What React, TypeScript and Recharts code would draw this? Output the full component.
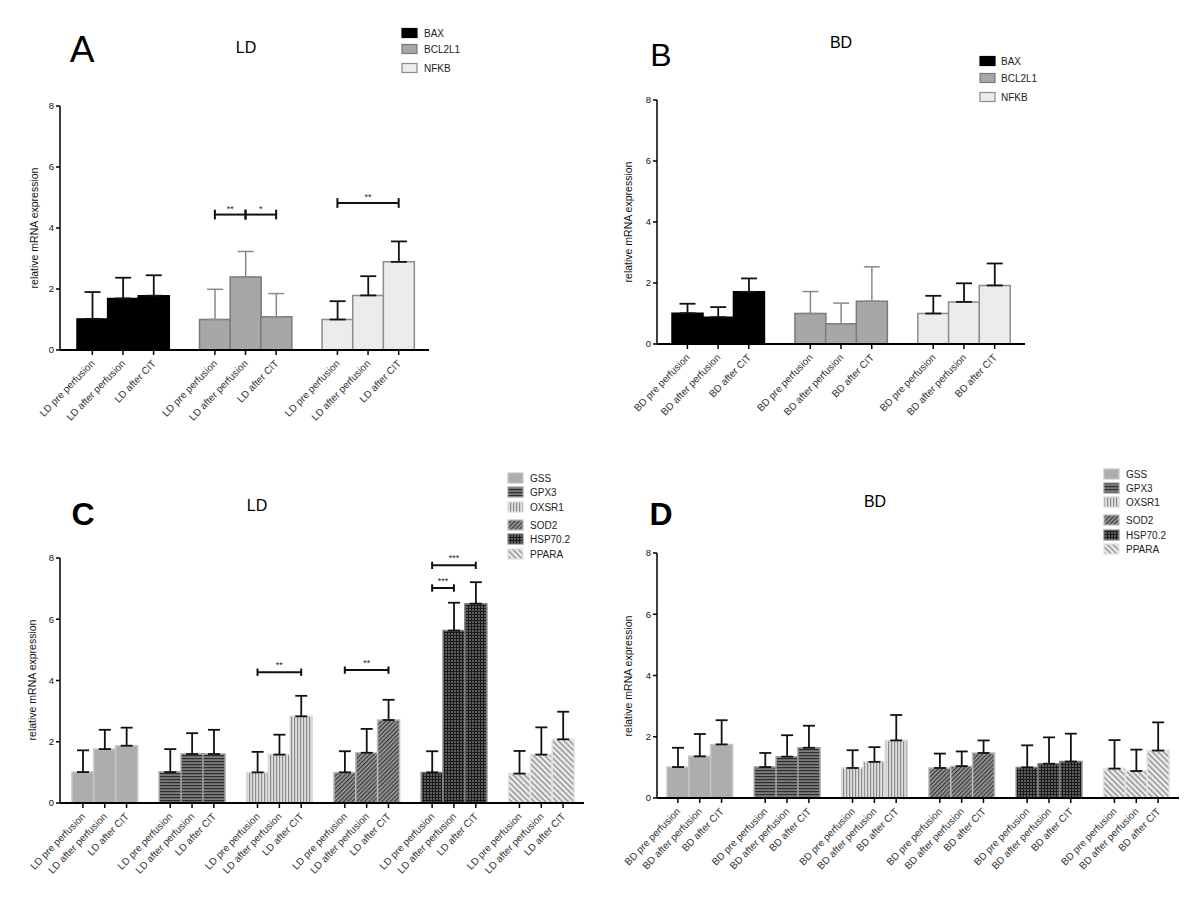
import { Bar, BarChart, Cell, ErrorBar, ReferenceLine, XAxis, YAxis } from "recharts";

const FONT = "'Liberation Sans', Arial, Helvetica, sans-serif";

const LD_STAGES = ["LD pre perfusion", "LD after perfusion", "LD after CIT"];
const BD_STAGES = ["BD pre perfusion", "BD after perfusion", "BD after CIT"];
const APOPTOSIS_GENES = ["BAX", "BCL2L1", "NFKB"];
const OXIDATIVE_GENES = ["GSS", "GPX3", "OXSR1", "SOD2", "HSP70.2", "PPARA"];
const Y_TICKS = [0, 2, 4, 6, 8];

// mean and upper SD per gene, stages in order (pre, after perfusion, after CIT)
const A_MEAN = [[1.02, 1.69, 1.78], [1.0, 2.39, 1.09], [1.0, 1.79, 2.89]];
const A_SD = [[0.88, 0.68, 0.67], [0.99, 0.84, 0.76], [0.6, 0.63, 0.67]];
const B_MEAN = [[1.01, 0.88, 1.71], [1.0, 0.66, 1.4], [1.0, 1.38, 1.92]];
const B_SD = [[0.31, 0.33, 0.44], [0.72, 0.68, 1.13], [0.58, 0.61, 0.72]];
const C_MEAN = [
  [1.01, 1.76, 1.87],
  [1.01, 1.6, 1.6],
  [1.0, 1.58, 2.83],
  [1.0, 1.64, 2.71],
  [1.0, 5.63, 6.51],
  [0.96, 1.58, 2.08],
];
const C_SD = [
  [0.71, 0.63, 0.59],
  [0.75, 0.68, 0.79],
  [0.67, 0.65, 0.67],
  [0.69, 0.78, 0.66],
  [0.69, 0.91, 0.7],
  [0.74, 0.89, 0.9],
];
const D_MEAN = [
  [1.01, 1.36, 1.75],
  [1.01, 1.35, 1.64],
  [0.98, 1.18, 1.88],
  [0.98, 1.04, 1.47],
  [1.0, 1.12, 1.19],
  [0.96, 0.88, 1.55],
];
const D_SD = [
  [0.63, 0.73, 0.79],
  [0.46, 0.7, 0.72],
  [0.58, 0.48, 0.83],
  [0.47, 0.48, 0.41],
  [0.72, 0.86, 0.91],
  [0.93, 0.7, 0.92],
];

// significance brackets: gene, from stage, to stage, height, stars
const A_SIG: [number, number, number, number, string][] = [
  [1, 0, 1, 4.44, "**"],
  [1, 1, 2, 4.44, "*"],
  [2, 0, 2, 4.82, "**"],
];
const C_SIG: [number, number, number, number, string][] = [
  [2, 0, 2, 4.27, "**"],
  [3, 0, 2, 4.34, "**"],
  [4, 0, 1, 7.02, "***"],
  [4, 0, 2, 7.76, "***"],
];

type GeneStyle = { fill: string; stroke: string; grey?: boolean };

const GENE_STYLE: Record<string, GeneStyle> = {
  BAX: { fill: "#000000", stroke: "#000000" },
  BCL2L1: { fill: "#a7a7a7", stroke: "#7a7a7a", grey: true },
  NFKB: { fill: "#ececec", stroke: "#8c8c8c" },
  GSS: { fill: "#adadad", stroke: "#c6c6c6" },
  GPX3: { fill: "url(#pat-gpx3)", stroke: "#9c9c9c" },
  OXSR1: { fill: "url(#pat-oxsr1)", stroke: "#dadada" },
  SOD2: { fill: "url(#pat-sod2)", stroke: "#bdbdbd" },
  "HSP70.2": { fill: "url(#pat-hsp)", stroke: "#858585" },
  PPARA: { fill: "url(#pat-ppara)", stroke: "#e2e2e2" },
};

type Row = {
  key: string;
  label: string;
  mean?: number;
  errDark?: number[];
  errGrey?: number[];
  fill?: string;
  stroke?: string;
};

function buildRows(id: string, genes: string[], stages: string[], mean: number[][], sd: number[][]) {
  const rows: Row[] = [];
  genes.forEach((g, gi) => {
    if (gi > 0) rows.push({ key: `${id}-gap${gi}`, label: "" });
    const st = GENE_STYLE[g];
    stages.forEach((s, si) => {
      const r: Row = { key: `${id}-${gi}-${si}`, label: s, mean: mean[gi][si], fill: st.fill, stroke: st.stroke };
      if (st.grey) r.errGrey = [0, sd[gi][si]];
      else r.errDark = [0, sd[gi][si]];
      rows.push(r);
    });
  });
  return rows;
}

function XTick(props: any) {
  const { x, y, index, rows, fontSize } = props;
  const row = rows[index];
  if (!row || !row.label) return <g />;
  const ax = x + 3;
  const ay = y + 14;
  return (
    <g>
      <line x1={x} y1={y} x2={x} y2={y + 5} stroke="#000" strokeWidth={1.5} />
      <text
        x={ax}
        y={ay}
        transform={`rotate(-46 ${ax} ${ay})`}
        textAnchor="end"
        fontSize={fontSize}
        fontFamily={FONT}
        fill="#333"
      >
        {row.label}
      </text>
    </g>
  );
}

type PanelCfg = {
  id: string;
  rows: Row[];
  sig: [number, number, number, number, string][];
  left: number;
  top: number;
  width: number;
  height: number;
  margin: { top: number; right: number; bottom: number; left: number };
  padding: { left: number; right: number };
  yWidth: number;
  xHeight: number;
  capHalf: number;
  tickFont: number;
  sigCap: number;
  sigOffset: number;
};

function Panel({ cfg }: { cfg: PanelCfg }) {
  const k = (gi: number, si: number) => `${cfg.id}-${gi}-${si}`;
  return (
    <div style={{ position: "absolute", left: cfg.left, top: cfg.top }}>
      <BarChart
        width={cfg.width}
        height={cfg.height}
        data={cfg.rows}
        margin={cfg.margin}
        barCategoryGap={0}
        barGap={0}
      >
        <XAxis
          dataKey="key"
          interval={0}
          tickLine={false}
          tickSize={0}
          tickMargin={0}
          height={cfg.xHeight}
          padding={cfg.padding}
          axisLine={{ stroke: "#000", strokeWidth: 2 }}
          tick={(p: any) => <XTick {...p} rows={cfg.rows} fontSize={cfg.tickFont} />}
        />
        <YAxis
          domain={[0, 8]}
          ticks={Y_TICKS}
          interval={0}
          width={cfg.yWidth}
          tickSize={4}
          tickMargin={2}
          axisLine={{ stroke: "#000", strokeWidth: 1.5 }}
          tickLine={{ stroke: "#000", strokeWidth: 1.5 }}
          tick={{ fontSize: 9.5, fill: "#111", fontFamily: FONT }}
        />
        <Bar dataKey="mean" isAnimationActive={false} strokeWidth={1.5}>
          {cfg.rows.map((r) => (
            <Cell key={r.key} fill={r.fill ?? "none"} stroke={r.stroke ?? "none"} />
          ))}
          <ErrorBar dataKey="errDark" direction="y" width={cfg.capHalf} stroke="#111" strokeWidth={1.8} isAnimationActive={false} />
          <ErrorBar dataKey="errGrey" direction="y" width={cfg.capHalf} stroke="#8a8a8a" strokeWidth={1.5} isAnimationActive={false} />
        </Bar>
        {cfg.sig.map(([gi, a, b, h, stars], i) => (
          <ReferenceLine
            key={`s${i}`}
            segment={[{ x: k(gi, a), y: h }, { x: k(gi, b), y: h }]}
            stroke="#111"
            strokeWidth={2}
            ifOverflow="visible"
            label={{ value: stars, position: "top", offset: cfg.sigOffset, fontSize: 9, fill: "#222", fontFamily: FONT }}
          />
        ))}
        {cfg.sig.map(([gi, a, , h], i) => (
          <ReferenceLine
            key={`l${i}`}
            segment={[{ x: k(gi, a), y: h - cfg.sigCap }, { x: k(gi, a), y: h + cfg.sigCap }]}
            stroke="#111"
            strokeWidth={2}
            ifOverflow="visible"
          />
        ))}
        {cfg.sig.map(([gi, , b, h], i) => (
          <ReferenceLine
            key={`r${i}`}
            segment={[{ x: k(gi, b), y: h - cfg.sigCap }, { x: k(gi, b), y: h + cfg.sigCap }]}
            stroke="#111"
            strokeWidth={2}
            ifOverflow="visible"
          />
        ))}
      </BarChart>
    </div>
  );
}

const PANELS: PanelCfg[] = [
  {
    id: "a",
    rows: buildRows("a", APOPTOSIS_GENES, LD_STAGES, A_MEAN, A_SD),
    sig: A_SIG,
    left: 0,
    top: 0,
    width: 600,
    height: 440,
    margin: { top: 106, right: 171, bottom: 10, left: 40 },
    padding: { left: 17, right: 15 },
    yWidth: 20,
    xHeight: 80,
    capHalf: 8,
    tickFont: 10,
    sigCap: 0.16,
    sigOffset: 3,
  },
  {
    id: "b",
    rows: buildRows("b", APOPTOSIS_GENES, BD_STAGES, B_MEAN, B_SD),
    sig: [],
    left: 600,
    top: 0,
    width: 600,
    height: 440,
    margin: { top: 100, right: 175, bottom: 16, left: 37 },
    padding: { left: 15, right: 15 },
    yWidth: 20,
    xHeight: 80,
    capHalf: 8,
    tickFont: 10,
    sigCap: 0.16,
    sigOffset: 3,
  },
  {
    id: "c",
    rows: buildRows("c", OXIDATIVE_GENES, LD_STAGES, C_MEAN, C_SD),
    sig: C_SIG,
    left: 0,
    top: 440,
    width: 600,
    height: 464,
    margin: { top: 118, right: 16, bottom: 11, left: 40 },
    padding: { left: 12, right: 10 },
    yWidth: 20,
    xHeight: 90,
    capHalf: 6,
    tickFont: 10,
    sigCap: 0.12,
    sigOffset: 4,
  },
  {
    id: "d",
    rows: buildRows("d", OXIDATIVE_GENES, BD_STAGES, D_MEAN, D_SD),
    sig: [],
    left: 600,
    top: 440,
    width: 600,
    height: 464,
    margin: { top: 113, right: 21, bottom: 16, left: 37 },
    padding: { left: 10, right: 10 },
    yWidth: 20,
    xHeight: 90,
    capHalf: 6,
    tickFont: 10,
    sigCap: 0.12,
    sigOffset: 4,
  },
];

// overlay text: panel letter, title, y label, legend
const HEADS = [
  { letter: "A", lx: 82, ly: 62, lsize: 37, bold: false, title: "LD", tx: 246, ty: 53, yx: 38, yy: 228 },
  { letter: "B", lx: 661, ly: 66, lsize: 32, bold: false, title: "BD", tx: 841, ty: 48, yx: 632, yy: 222 },
  { letter: "C", lx: 83, ly: 525, lsize: 32, bold: true, title: "LD", tx: 257, ty: 511, yx: 36, yy: 680 },
  { letter: "D", lx: 661, ly: 525, lsize: 32, bold: true, title: "BD", tx: 875, ty: 507, yx: 632, yy: 676 },
];

const LEGENDS = [
  { genes: APOPTOSIS_GENES, sx: 402, tx: 424, h: 9, rows: [33, 49, 68] },
  { genes: APOPTOSIS_GENES, sx: 980, tx: 1001, h: 9, rows: [61, 78, 97] },
  { genes: OXIDATIVE_GENES, sx: 508, tx: 530, h: 10, rows: [478, 492, 507, 525, 539, 554] },
  { genes: OXIDATIVE_GENES, sx: 1104, tx: 1126, h: 10, rows: [474, 488, 502, 520, 535, 549] },
];

function Overlay() {
  return (
    <svg
      width={1200}
      height={904}
      style={{ position: "absolute", left: 0, top: 0, pointerEvents: "none" }}
      fontFamily={FONT}
    >
      <defs>
        <pattern id="pat-gpx3" width="4" height="3" patternUnits="userSpaceOnUse">
          <rect width="4" height="3" fill="#7c7c7c" />
          <rect width="4" height="1.2" fill="#2e2e2e" />
        </pattern>
        <pattern id="pat-oxsr1" width="3" height="4" patternUnits="userSpaceOnUse">
          <rect width="3" height="4" fill="#e0e0e0" />
          <rect width="1.2" height="4" fill="#8a8a8a" />
        </pattern>
        <pattern id="pat-sod2" width="3" height="3" patternUnits="userSpaceOnUse" patternTransform="rotate(45)">
          <rect width="3" height="3" fill="#9a9a9a" />
          <rect width="1.3" height="3" fill="#3c3c3c" />
        </pattern>
        <pattern id="pat-hsp" width="3" height="3" patternUnits="userSpaceOnUse">
          <rect width="3" height="3" fill="#5e5e5e" />
          <rect width="3" height="1" fill="#1a1a1a" />
          <rect width="1" height="3" fill="#1a1a1a" />
        </pattern>
        <pattern id="pat-ppara" width="4" height="4" patternUnits="userSpaceOnUse" patternTransform="rotate(45)">
          <rect width="4" height="4" fill="#efefef" />
          <path d="M0 3 L1 1 L2 3 L3 1 L4 3" stroke="#8a8a8a" fill="none" strokeWidth="0.9" />
        </pattern>
      </defs>
      {HEADS.map((h) => (
        <g key={h.letter}>
          <text x={h.lx} y={h.ly} textAnchor="middle" fontSize={h.lsize} fontWeight={h.bold ? 700 : 400} fill="#000">
            {h.letter}
          </text>
          <text x={h.tx} y={h.ty} textAnchor="middle" fontSize={16} fill="#000">
            {h.title}
          </text>
          <text
            x={h.yx}
            y={h.yy}
            transform={`rotate(-90 ${h.yx} ${h.yy})`}
            textAnchor="middle"
            fontSize={10.5}
            fill="#111"
          >
            relative mRNA expression
          </text>
        </g>
      ))}
      {LEGENDS.map((lg, li) =>
        lg.genes.map((g, gi) => {
          const st = GENE_STYLE[g];
          const cy = lg.rows[gi];
          return (
            <g key={`${li}-${g}`}>
              <rect x={lg.sx} y={cy - lg.h / 2} width={15} height={lg.h} fill={st.fill} stroke={st.stroke} strokeWidth={1.2} />
              <text x={lg.tx} y={cy + 3.5} fontSize={10} fill="#222">
                {g}
              </text>
            </g>
          );
        })
      )}
    </svg>
  );
}

export default function App() {
  return (
    <div style={{ position: "absolute", left: 0, top: 0, width: 1200, height: 904, background: "#fff" }}>
      {PANELS.map((p) => (
        <Panel key={p.id} cfg={p} />
      ))}
      <Overlay />
    </div>
  );
}
